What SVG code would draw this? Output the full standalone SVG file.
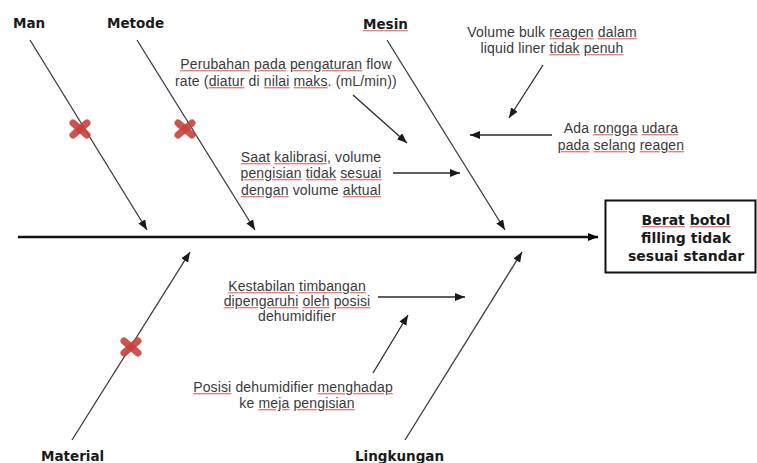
<svg xmlns="http://www.w3.org/2000/svg" width="757" height="463" viewBox="0 0 757 463">
<style>
.cat{font-family:"DejaVu Sans",Verdana,sans-serif;font-weight:bold;font-size:13.5px;fill:#1a1a1a}
.t{font-family:"Liberation Sans",Arial,sans-serif;font-size:14px;fill:#3a3a3a;text-anchor:middle;letter-spacing:0.15px}
.box{font-family:"DejaVu Sans",Verdana,sans-serif;font-weight:bold;font-size:14px;fill:#1a1a1a;text-anchor:middle}
.sp{text-decoration:underline;fill:#e88080;text-decoration-thickness:1px;text-underline-offset:2px}
.sp tspan{fill:#3a3a3a}
.box .sp tspan,.cat .sp tspan{fill:#1a1a1a}
.bone{stroke:#3a3a3a;stroke-width:1.3;fill:none;marker-end:url(#ah)}
.ar{stroke:#2a2a2a;stroke-width:1.3;fill:none;marker-end:url(#ah)}
.x{stroke:#c8423c;stroke-width:7;stroke-linecap:round;opacity:0.9}
</style>
<defs>
<marker id="ah" markerUnits="userSpaceOnUse" markerWidth="12" markerHeight="10" refX="10" refY="4" orient="auto">
<path d="M0,0 L10,4 L0,8 z" fill="#1a1a1a"/>
</marker>
<marker id="ahb" markerUnits="userSpaceOnUse" markerWidth="12" markerHeight="10" refX="10" refY="4" orient="auto">
<path d="M0,0 L10,4 L0,8 z" fill="#000"/>
</marker>
</defs>

<g id="connectors">
<line x1="18" y1="237" x2="598" y2="237" stroke="#111" stroke-width="2.5" marker-end="url(#ahb)"/>
<line class="bone" x1="30" y1="40" x2="147" y2="230"/>
<line class="bone" x1="137" y1="40" x2="255" y2="230"/>
<line class="bone" x1="387" y1="40" x2="505" y2="230"/>
<line class="bone" x1="72" y1="440" x2="190" y2="252"/>
<line class="bone" x1="405" y1="440" x2="522" y2="252"/>
<line class="ar" x1="353" y1="95" x2="407" y2="143"/>
<line class="ar" x1="393" y1="173" x2="460" y2="173"/>
<line class="ar" x1="543" y1="65" x2="509" y2="118"/>
<line class="ar" x1="552" y1="135" x2="470" y2="135"/>
<line class="ar" x1="378" y1="297" x2="465" y2="297"/>
<line class="ar" x1="373" y1="373" x2="408" y2="315"/>
</g>

<g id="marks">
<g transform="translate(80,129)"><line class="x" x1="-7" y1="-6" x2="7" y2="6"/><line class="x" x1="-7" y1="6" x2="7" y2="-6"/></g>
<g transform="translate(185,129)"><line class="x" x1="-7" y1="-6" x2="7" y2="6"/><line class="x" x1="-7" y1="6" x2="7" y2="-6"/></g>
<g transform="translate(131,347)"><line class="x" x1="-7" y1="-6" x2="7" y2="6"/><line class="x" x1="-7" y1="6" x2="7" y2="-6"/></g>
</g>

<g id="man"><text class="cat" x="13" y="28">Man</text></g>
<g id="metode"><text class="cat" x="107" y="28">Metode</text></g>
<g id="mesin"><text class="cat" x="363" y="29"><tspan class="sp"><tspan>Mesin</tspan></tspan></text></g>
<g id="material"><text class="cat" x="41" y="461">Material</text></g>
<g id="lingkungan"><text class="cat" x="355" y="461">Lingkungan</text></g>

<g id="effect">
<rect x="605.5" y="200.5" width="150" height="72" fill="#fff" stroke="#111" stroke-width="2"/>
<text class="box" x="686" y="225"><tspan class="sp"><tspan>Berat</tspan></tspan> <tspan class="sp"><tspan>botol</tspan></tspan></text>
<text class="box" x="686" y="243">filling tidak</text>
<text class="box" x="686" y="261">sesuai standar</text>
</g>

<g id="cause-flowrate">
<text class="t" x="286" y="69"><tspan class="sp"><tspan>Perubahan</tspan></tspan> <tspan class="sp"><tspan>pada</tspan></tspan> <tspan class="sp"><tspan>pengaturan</tspan></tspan> flow</text>
<text class="t" x="286" y="86">rate (<tspan class="sp"><tspan>diatur</tspan></tspan> di <tspan class="sp"><tspan>nilai</tspan></tspan> <tspan class="sp"><tspan>maks</tspan></tspan>. (mL/min))</text>
</g>

<g id="cause-kalibrasi">
<text class="t" x="311" y="162"><tspan class="sp"><tspan>Saat</tspan></tspan> <tspan class="sp"><tspan>kalibrasi</tspan></tspan>, volume</text>
<text class="t" x="311" y="178"><tspan class="sp"><tspan>pengisian</tspan></tspan> <tspan class="sp"><tspan>tidak</tspan></tspan> <tspan class="sp"><tspan>sesuai</tspan></tspan></text>
<text class="t" x="311" y="195"><tspan class="sp"><tspan>dengan</tspan></tspan> volume <tspan class="sp"><tspan>aktual</tspan></tspan></text>
</g>

<g id="cause-bulk">
<text class="t" x="552" y="37">Volume bulk <tspan class="sp"><tspan>reagen</tspan></tspan> <tspan class="sp"><tspan>dalam</tspan></tspan></text>
<text class="t" x="552" y="53">liquid liner <tspan class="sp"><tspan>tidak</tspan></tspan> <tspan class="sp"><tspan>penuh</tspan></tspan></text>
</g>

<g id="cause-rongga">
<text class="t" x="621" y="133">Ada <tspan class="sp"><tspan>rongga</tspan></tspan> <tspan class="sp"><tspan>udara</tspan></tspan></text>
<text class="t" x="621" y="150"><tspan class="sp"><tspan>pada</tspan></tspan> <tspan class="sp"><tspan>selang</tspan></tspan> <tspan class="sp"><tspan>reagen</tspan></tspan></text>
</g>

<g id="cause-timbangan">
<text class="t" x="297" y="291"><tspan class="sp"><tspan>Kestabilan</tspan></tspan> <tspan class="sp"><tspan>timbangan</tspan></tspan></text>
<text class="t" x="297" y="306"><tspan class="sp"><tspan>dipengaruhi</tspan></tspan> <tspan class="sp"><tspan>oleh</tspan></tspan> <tspan class="sp"><tspan>posisi</tspan></tspan></text>
<text class="t" x="297" y="321">dehumidifier</text>
</g>

<g id="cause-posisi">
<text class="t" x="293" y="392"><tspan class="sp"><tspan>Posisi</tspan></tspan> dehumidifier <tspan class="sp"><tspan>menghadap</tspan></tspan></text>
<text class="t" x="297" y="408">ke <tspan class="sp"><tspan>meja</tspan></tspan> <tspan class="sp"><tspan>pengisian</tspan></tspan></text>
</g>
</svg>
